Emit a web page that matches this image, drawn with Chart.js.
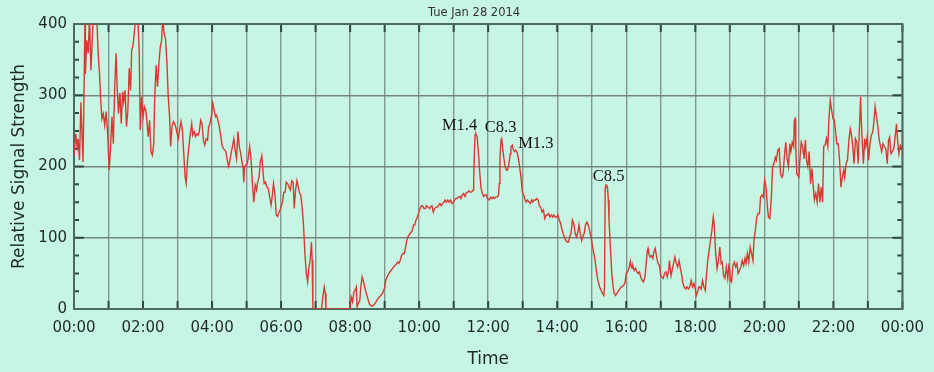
<!DOCTYPE html>
<html>
<head>
<meta charset="utf-8">
<script src="https://cdn.jsdelivr.net/npm/chart.js@4.4.1/dist/chart.umd.min.js"></script>
<style>
  html, body { margin: 0; padding: 0; background: #c6f5e4; }
  #wrap { width: 934px; height: 372px; position: relative; }
</style>
</head>
<body>
<div id="wrap"><canvas id="signal"></canvas></div>
<script>
// time of day in hours
const hours = [
  0.00,0.05,0.09,0.12,0.16,0.20,0.26,0.28,0.32,0.33,
  0.37,0.41,0.45,0.49,0.53,0.56,0.66,0.70,0.74,0.78,
  0.81,0.85,0.89,0.93,0.97,1.02,1.06,1.10,1.14,1.18,
  1.22,1.25,1.29,1.33,1.37,1.41,1.44,1.48,1.52,1.56,
  1.60,1.64,1.67,1.71,1.75,1.79,1.85,1.89,1.92,1.96,
  2.00,2.04,2.08,2.11,2.15,2.19,2.23,2.27,2.31,2.34,
  2.38,2.42,2.46,2.50,2.54,2.57,2.61,2.65,2.69,2.73,
  2.77,2.80,2.84,2.88,2.92,2.96,3.02,3.06,3.10,3.14,
  3.18,3.22,3.25,3.29,3.33,3.37,3.41,3.44,3.48,3.52,
  3.56,3.60,3.63,3.67,3.71,3.75,3.79,3.83,3.87,3.90,
  3.94,3.98,4.02,4.06,4.10,4.13,4.17,4.21,4.25,4.29,
  4.33,4.37,4.40,4.44,4.48,4.52,4.56,4.59,4.63,4.67,
  4.71,4.75,4.79,4.83,4.86,4.90,4.92,4.94,4.98,5.02,
  5.05,5.09,5.13,5.17,5.21,5.25,5.29,5.32,5.36,5.40,
  5.44,5.48,5.51,5.55,5.59,5.63,5.67,5.71,5.74,5.78,
  5.82,5.86,5.90,5.94,5.97,6.00,6.04,6.08,6.12,6.15,
  6.19,6.23,6.27,6.31,6.35,6.38,6.42,6.46,6.50,6.54,
  6.57,6.61,6.65,6.69,6.73,6.77,6.80,6.84,6.88,6.90,
  6.92,6.96,7.17,7.21,7.25,7.28,7.30,7.99,8.03,8.07,
  8.11,8.14,8.18,8.20,8.24,8.28,8.31,8.35,8.39,8.43,
  8.47,8.51,8.56,8.62,8.68,8.75,8.81,8.87,8.94,9.00,
  9.03,9.09,9.15,9.20,9.26,9.32,9.38,9.41,9.45,9.49,
  9.53,9.57,9.61,9.64,9.68,9.74,9.80,9.84,9.87,9.91,
  9.95,9.99,10.03,10.07,10.10,10.14,10.18,10.22,10.26,10.30,
  10.34,10.37,10.41,10.45,10.49,10.53,10.56,10.60,10.64,10.68,
  10.72,10.75,10.79,10.83,10.87,10.91,10.95,11.00,11.03,11.06,
  11.10,11.14,11.18,11.21,11.25,11.29,11.33,11.37,11.41,11.44,
  11.48,11.52,11.56,11.58,11.60,11.62,11.64,11.68,11.71,11.75,
  11.79,11.83,11.87,11.90,11.94,11.98,12.03,12.07,12.11,12.14,
  12.18,12.22,12.26,12.30,12.32,12.34,12.37,12.39,12.41,12.45,
  12.49,12.53,12.56,12.60,12.64,12.66,12.70,12.72,12.76,12.79,
  12.83,12.87,12.91,12.95,12.99,13.03,13.06,13.10,13.14,13.18,
  13.22,13.26,13.29,13.33,13.37,13.41,13.45,13.48,13.52,13.56,
  13.60,13.64,13.68,13.71,13.75,13.79,13.83,13.87,13.90,13.94,
  13.98,14.02,14.06,14.10,14.13,14.17,14.21,14.25,14.29,14.33,
  14.36,14.40,14.44,14.48,14.52,14.56,14.60,14.63,14.67,14.71,
  14.74,14.78,14.82,14.86,14.90,14.94,14.98,15.01,15.05,15.09,
  15.12,15.16,15.20,15.23,15.27,15.31,15.35,15.37,15.39,15.41,
  15.43,15.46,15.48,15.50,15.54,15.58,15.62,15.65,15.69,15.73,
  15.77,15.81,15.85,15.88,15.92,15.96,16.00,16.04,16.08,16.12,
  16.15,16.17,16.19,16.23,16.27,16.31,16.34,16.38,16.42,16.46,
  16.50,16.54,16.57,16.61,16.63,16.65,16.69,16.73,16.77,16.80,
  16.84,16.88,16.92,16.96,17.00,17.03,17.07,17.11,17.15,17.19,
  17.23,17.25,17.27,17.30,17.34,17.38,17.41,17.45,17.49,17.53,
  17.57,17.61,17.64,17.68,17.72,17.76,17.80,17.84,17.88,17.92,
  17.96,18.00,18.03,18.07,18.10,18.13,18.17,18.21,18.25,18.29,
  18.32,18.36,18.40,18.44,18.48,18.52,18.55,18.59,18.63,18.67,
  18.71,18.75,18.78,18.82,18.86,18.90,18.94,18.98,19.02,19.05,
  19.09,19.13,19.17,19.21,19.24,19.28,19.32,19.36,19.40,19.44,
  19.47,19.51,19.55,19.59,19.63,19.67,19.70,19.74,19.78,19.82,
  19.86,19.89,19.93,19.97,20.01,20.05,20.09,20.12,20.16,20.20,
  20.24,20.28,20.32,20.35,20.39,20.43,20.47,20.51,20.54,20.58,
  20.62,20.66,20.70,20.74,20.77,20.81,20.85,20.87,20.89,20.91,
  20.94,21.00,21.03,21.07,21.11,21.15,21.19,21.22,21.26,21.30,
  21.34,21.38,21.42,21.45,21.49,21.53,21.57,21.61,21.65,21.69,
  21.72,21.76,21.80,21.84,21.87,21.91,21.95,21.99,22.03,22.07,
  22.10,22.14,22.18,22.22,22.26,22.30,22.33,22.37,22.41,22.45,
  22.49,22.52,22.56,22.60,22.64,22.68,22.72,22.75,22.79,22.81,
  22.83,22.87,22.91,22.94,22.98,23.02,23.06,23.10,23.14,23.17,
  23.21,23.25,23.29,23.33,23.37,23.40,23.44,23.48,23.52,23.56,
  23.60,23.63,23.67,23.71,23.75,23.79,23.83,23.86,23.90,23.94,
  23.97,24.00
];

// relative signal strength at each of those times
const signal = [
  215,246,228,239,209,290,206,265,420,330,
  377,359,410,335,377,410,410,359,330,288,
  267,274,258,277,251,195,228,270,232,312,
  359,312,274,303,260,305,291,307,256,278,
  338,307,363,370,389,410,410,359,251,298,
  270,284,279,265,242,265,221,216,232,298,
  342,312,345,368,377,410,387,380,349,298,
  270,228,256,263,260,253,239,251,263,251,
  218,185,176,209,228,246,260,244,249,242,
  246,244,249,265,260,237,230,239,237,256,
  260,270,289,279,270,272,265,256,244,230,
  225,223,221,209,200,209,221,228,239,223,
  211,249,228,218,209,197,178,200,202,204,
  213,228,209,176,150,174,167,178,185,207,
  215,190,176,178,171,169,157,146,157,176,
  162,132,130,136,139,143,150,164,164,178,
  176,171,167,180,178,141,167,180,171,162,
  160,143,117,78,50,38,57,68,94,68,
  3,0,0,17,31,22,0,0,17,10,
  24,26,31,3,8,12,31,45,38,29,
  22,15,7,4,5,10,15,18,22,30,
  40,47,52,55,59,62,66,64,68,75,
  78,78,87,96,102,106,110,118,118,125,
  129,136,141,145,145,141,141,145,143,141,
  144,145,136,141,143,143,145,148,145,148,
  150,153,150,153,150,153,148,150,153,155,
  155,157,158,155,160,162,158,163,164,166,
  164,164,167,181,218,244,246,241,225,195,
  171,162,158,160,160,155,153,157,155,157,
  155,157,157,160,176,209,237,239,230,213,
  200,195,195,204,218,228,230,225,221,223,
  221,213,200,185,164,160,155,150,153,150,
  148,153,150,153,153,155,153,145,143,136,
  139,127,132,132,134,129,132,129,132,129,
  129,132,125,120,113,106,101,96,94,94,
  101,106,125,120,106,101,108,118,106,96,
  101,106,118,122,118,110,101,92,80,71,
  59,45,36,31,26,22,19,31,171,174,
  174,169,153,125,87,50,31,22,19,22,
  25,28,31,31,33,36,50,52,57,67,
  59,57,61,54,57,52,50,52,45,40,
  38,45,59,82,85,78,73,75,71,80,
  85,73,64,61,47,45,43,50,52,45,
  54,68,59,47,57,66,73,64,59,68,
  57,47,36,31,28,31,28,31,40,31,
  36,28,19,24,31,31,28,40,31,26,
  45,68,82,96,110,129,118,78,57,68,
  87,64,66,47,43,59,43,64,40,38,
  61,66,59,64,50,54,59,68,61,71,
  64,78,66,87,78,68,96,110,129,134,
  134,157,160,157,181,171,143,129,127,153,
  200,204,213,209,223,225,190,185,188,213,
  234,211,200,232,221,234,228,265,267,228,
  190,185,209,234,228,211,237,209,200,221,
  176,197,171,153,162,150,176,150,171,150,
  228,230,239,228,265,293,279,267,265,246,
  232,232,209,171,185,195,185,204,209,237,
  253,246,230,204,239,234,204,246,298,265,
  241,204,239,228,241,209,232,244,248,260,
  284,270,256,237,228,221,232,228,225,204,
  237,241,218,221,225,241,260,237,218,230,
  228,225
];

// flare labels, placed in data units (hour, signal level of the label centre)
const flareNames = ["M1.4", "C8.3", "M1.3", "C8.5"];
const flareHours = [11.17, 12.36, 13.38, 15.49];
const flareLevels = [257, 254, 232, 186];

const dayTitle = "Tue Jan 28 2014";
const minorStep = 25;

const hourLabel = (h) => (h % 2 ? "" : String(h % 24).padStart(2, "0") + ":00");

// frame round the plot plus the small inward tick marks
const frameTicks = {
  id: "frameTicks",
  beforeDatasetsDraw(chart) {
    const { ctx, chartArea: a, scales: { x, y } } = chart;
    ctx.save();
    ctx.strokeStyle = "#2e4a42";
    ctx.lineWidth = 2;
    ctx.beginPath();
    x.ticks.forEach((t) => {
      const px = x.getPixelForValue(t.value);
      ctx.moveTo(px, a.top); ctx.lineTo(px, a.top + 8);
      ctx.moveTo(px, a.bottom); ctx.lineTo(px, a.bottom - 8);
    });
    for (let v = y.min; v <= y.max; v += minorStep) {
      const py = y.getPixelForValue(v);
      const len = v % 100 === 0 ? 10 : 5;
      ctx.moveTo(a.left, py); ctx.lineTo(a.left + len, py);
      ctx.moveTo(a.right, py); ctx.lineTo(a.right - len, py);
    }
    ctx.stroke();
    ctx.strokeStyle = "#4d6a61";
    ctx.strokeRect(a.left, a.top, a.right - a.left, a.bottom - a.top);
    ctx.restore();
  },
  afterDraw(chart) {
    const { ctx } = chart;
    ctx.save();
    ctx.fillStyle = "#333";
    ctx.font = "11.5px 'DejaVu Sans'";
    ctx.textAlign = "center";
    ctx.textBaseline = "middle";
    ctx.fillText(dayTitle, chart.width / 2 + 7, 13);
    ctx.restore();
  }
};

const flareText = {
  id: "flareText",
  afterDatasetsDraw(chart) {
    const { ctx, scales: { x, y } } = chart;
    ctx.save();
    ctx.fillStyle = "#111";
    ctx.font = "16.5px 'Liberation Serif'";
    ctx.textAlign = "center";
    ctx.textBaseline = "middle";
    flareNames.forEach((name, i) => {
      ctx.fillText(name, x.getPixelForValue(flareHours[i]), y.getPixelForValue(flareLevels[i]));
    });
    ctx.restore();
  }
};

new Chart(document.getElementById("signal"), {
  type: "line",
  data: {
    datasets: [{
      data: hours.map((h, i) => ({ x: h, y: signal[i] })),
      borderColor: "#d83a33",
      borderWidth: 1.4,
      pointRadius: 0,
      tension: 0,
      fill: false
    }]
  },
  options: {
    responsive: true,
    maintainAspectRatio: false,
    animation: false,
    devicePixelRatio: 1,
    layout: { padding: { top: 24, right: 25, left: 0, bottom: 0 } },
    plugins: { legend: { display: false }, tooltip: { enabled: false } },
    scales: {
      x: {
        type: "linear",
        min: 0,
        max: 24,
        afterFit: (s) => { s.height = 63; },
        grid: { color: "#86968f", lineWidth: 1.4, drawTicks: false },
        border: { display: false },
        ticks: {
          stepSize: 1,
          autoSkip: false,
          maxRotation: 0,
          padding: 10,
          color: "#1e2a26",
          font: { family: "DejaVu Sans", size: 15 },
          callback: (v) => hourLabel(v)
        },
        title: {
          display: true,
          text: "Time",
          color: "#1e2a26",
          font: { family: "DejaVu Sans", size: 17 },
          padding: { top: 0, bottom: 2 }
        }
      },
      y: {
        min: 0,
        max: 400,
        afterFit: (s) => { s.width = 74; },
        grid: { color: "#76847e", lineWidth: 1.4, drawTicks: false },
        border: { display: false },
        ticks: {
          stepSize: 100,
          padding: 7,
          color: "#1e2a26",
          font: { family: "DejaVu Sans", size: 15 }
        },
        title: {
          display: true,
          text: "Relative Signal Strength",
          color: "#1e2a26",
          font: { family: "DejaVu Sans", size: 17 },
          padding: { top: 9.5, bottom: 0 }
        }
      }
    }
  },
  plugins: [frameTicks, flareText]
});
</script>
</body>
</html>
